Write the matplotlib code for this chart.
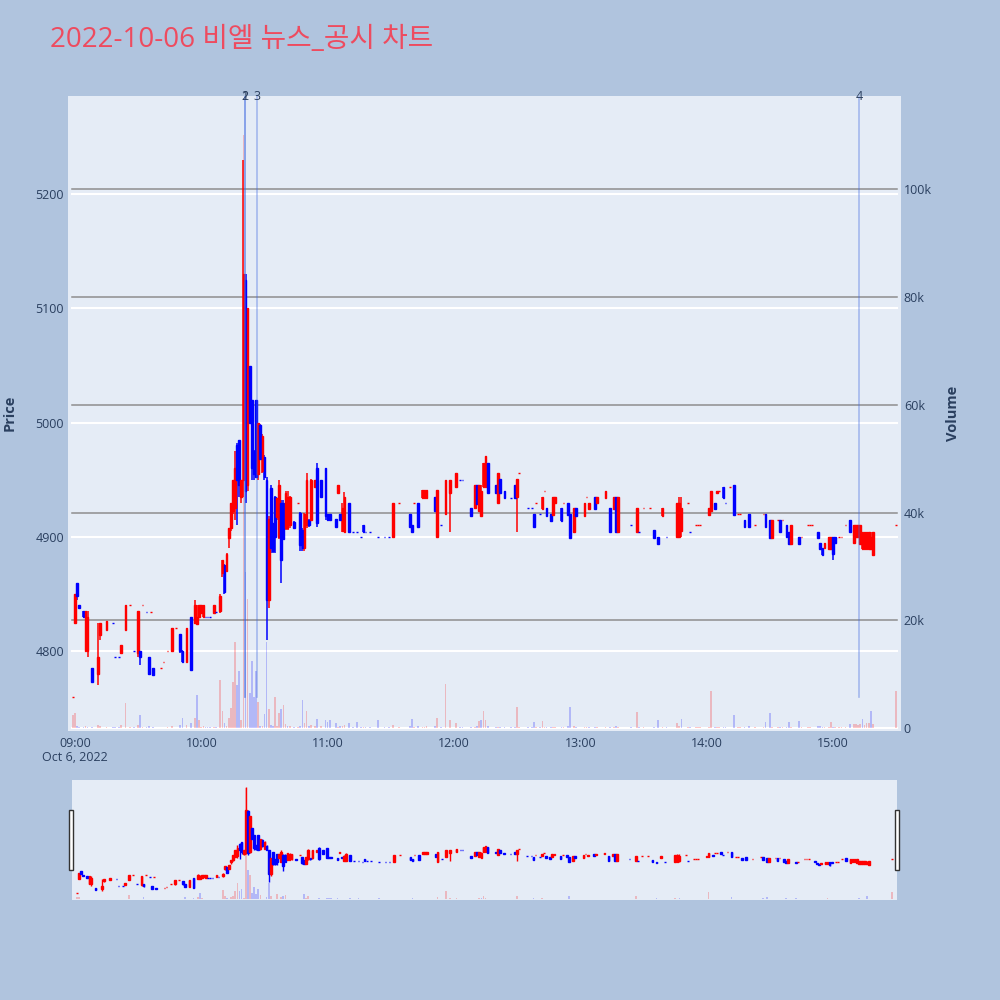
import matplotlib
matplotlib.use("Agg")
import matplotlib.pyplot as plt
import matplotlib.dates as mdates
import matplotlib.transforms as mtransforms
from matplotlib.patches import Rectangle
import pandas as pd

TRADE_DATE = "2022-10-06"
TITLE = "2022-10-06 비엘 뉴스_공시 차트"

# ---------------- data (1-minute candles) ----------------
times = [
    "08:59","09:00","09:01","09:02","09:04","09:05","09:06","09:08","09:11","09:12",
    "09:15","09:18","09:19","09:21","09:22","09:24","09:26","09:28","09:30","09:31",
    "09:32","09:34","09:35","09:36","09:37","09:41","09:42","09:44","09:46","09:48",
    "09:50","09:51","09:53","09:55","09:57","09:58","09:59",
    "10:00","10:01","10:02","10:03","10:04","10:06","10:07","10:09","10:10","10:11",
    "10:12","10:13","10:14","10:15","10:16","10:17","10:18","10:19","10:20","10:21",
    "10:22","10:23","10:24","10:25","10:26","10:27","10:28","10:29","10:30","10:31",
    "10:32","10:33","10:34","10:35","10:36","10:37","10:38","10:39","10:40","10:41",
    "10:42","10:44","10:46","10:47","10:48","10:49","10:50","10:51","10:52","10:54",
    "10:55","10:57","10:59",
    "11:00","11:01","11:04","11:05","11:06","11:07","11:08","11:10","11:12","11:14",
    "11:16","11:17","11:18","11:20","11:24","11:27","11:29","11:31","11:34","11:39",
    "11:40","11:41","11:43","11:45","11:46","11:47","11:51","11:52","11:54","11:56",
    "11:58",
    "12:01","12:03","12:04","12:08","12:10","12:11","12:12","12:13","12:14","12:15",
    "12:16","12:20","12:21","12:22","12:24","12:27","12:29","12:30","12:31","12:35",
    "12:37","12:38","12:39","12:41","12:42","12:43","12:44","12:46","12:47","12:48",
    "12:51","12:52","12:54","12:55","12:57","12:58",
    "13:02","13:03","13:04","13:07","13:08","13:12","13:14","13:16","13:17","13:18",
    "13:24","13:27","13:28","13:30","13:33","13:35","13:37","13:39","13:41","13:46",
    "13:47","13:48","13:51","13:52","13:55","13:56","13:57",
    "14:01","14:02","14:04","14:05","14:06","14:08","14:09","14:11","14:13","14:15",
    "14:16","14:18","14:20","14:23","14:27","14:28","14:30","14:31","14:34","14:35",
    "14:36","14:38","14:39","14:40","14:44","14:45","14:48","14:49","14:50","14:53",
    "14:54","14:55","14:56","14:58","14:59",
    "15:00","15:01","15:03","15:04","15:06","15:08","15:10","15:11","15:12","15:13",
    "15:14","15:15","15:16","15:17","15:18","15:19","15:30",
]
opens = [
    4760,4825,4860,4840,4835,4800,4800,4785,4780,4814,
    4818,4825,4795,4795,4798,4818,4840,4800,4798,4800,
    4840,4834,4795,4834,4785,4785,4790,4800,4800,4820,
    4815,4800,4790,4830,4825,4824,4830,
    4833,4830,4830,4830,4830,4833,4834,4835,4868,4875,
    4870,4899,4908,4923,4925,4980,4985,4935,4950,5125,
    4945,5050,5020,4975,5020,4955,4998,4958,4970,4950,
    4845,4943,4912,4935,4917,4900,4930,4930,4908,4908,
    4910,4913,4930,4921,4906,4890,4910,4915,4915,4944,
    4960,4950,4960,
    4920,4920,4916,4938,4920,4905,4904,4930,4904,4904,
    4900,4910,4904,4904,4900,4900,4900,4900,4930,4920,
    4910,4930,4930,4934,4934,4934,4935,4900,4910,4920,
    4938,
    4944,4950,4950,4925,4925,4945,4923,4918,4944,4944,
    4965,4945,4930,4951,4940,4934,4945,4935,4956,4925,
    4925,4920,4930,4920,4924,4940,4925,4920,4919,4930,
    4925,4930,4930,4920,4904,4925,
    4918,4935,4924,4935,4930,4934,4925,4924,4935,4904,
    4910,4904,4904,4925,4925,4906,4900,4918,4900,4900,
    4900,4905,4930,4904,4910,4910,4910,
    4919,4923,4930,4938,4940,4944,4930,4944,4945,4920,
    4920,4915,4920,4910,4920,4920,4915,4899,4915,4915,
    4915,4910,4904,4894,4900,4900,4910,4910,4910,4904,
    4895,4890,4890,4889,4889,
    4900,4900,4900,4900,4910,4915,4895,4900,4900,4894,
    4889,4889,4889,4889,4889,4884,4910,
]
highs = [
    4760,4850,4860,4840,4835,4835,4835,4785,4825,4825,
    4826,4825,4795,4795,4805,4840,4840,4800,4835,4800,
    4840,4834,4795,4834,4785,4785,4790,4800,4820,4820,
    4815,4801,4820,4830,4845,4840,4840,
    4840,4840,4830,4830,4830,4840,4834,4850,4880,4876,
    4886,4908,4930,4950,4975,4982,4985,4950,5230,5130,
    5100,5050,5020,4976,5020,5000,4999,4990,4972,4952,
    4918,4945,4912,4936,4934,4950,4932,4932,4940,4940,
    4936,4914,4930,4922,4908,4921,4956,4916,4951,4950,
    4965,4950,4960,
    4920,4920,4916,4945,4920,4930,4939,4930,4904,4904,
    4900,4910,4904,4904,4900,4900,4900,4930,4930,4920,
    4910,4930,4930,4941,4941,4941,4935,4941,4910,4950,
    4950,
    4956,4950,4950,4925,4945,4945,4945,4945,4965,4971,
    4965,4945,4956,4951,4940,4934,4945,4951,4956,4925,
    4925,4920,4930,4920,4935,4940,4925,4920,4935,4935,
    4925,4930,4930,4920,4925,4925,
    4930,4935,4930,4935,4935,4940,4925,4935,4935,4935,
    4910,4925,4904,4925,4925,4906,4900,4925,4900,4930,
    4935,4935,4930,4904,4910,4910,4910,
    4925,4940,4930,4940,4940,4944,4930,4944,4945,4920,
    4920,4915,4920,4910,4920,4920,4915,4915,4915,4915,
    4915,4910,4904,4910,4900,4900,4910,4910,4910,4904,
    4895,4890,4895,4900,4900,
    4900,4900,4900,4900,4910,4915,4910,4910,4910,4910,
    4904,4904,4904,4904,4904,4904,4910,
]
lows = [
    4760,4825,4845,4838,4830,4800,4795,4773,4770,4810,
    4818,4825,4795,4795,4797,4818,4840,4800,4795,4788,
    4840,4834,4779,4834,4779,4785,4790,4800,4799,4820,
    4798,4790,4790,4783,4824,4824,4830,
    4833,4830,4830,4830,4830,4833,4834,4833,4865,4850,
    4869,4890,4905,4920,4915,4910,4935,4930,4935,4930,
    4940,5000,4950,4950,4952,4950,4967,4956,4950,4810,
    4838,4886,4886,4886,4915,4898,4860,4897,4906,4906,
    4908,4908,4930,4888,4888,4888,4908,4909,4914,4944,
    4909,4935,4915,
    4915,4915,4909,4938,4915,4904,4904,4904,4904,4904,
    4900,4904,4904,4904,4900,4900,4900,4900,4930,4909,
    4904,4930,4909,4934,4934,4934,4923,4900,4910,4920,
    4904,
    4944,4950,4950,4918,4925,4929,4923,4918,4944,4944,
    4938,4938,4930,4938,4934,4934,4934,4904,4956,4925,
    4925,4909,4930,4920,4924,4940,4918,4914,4919,4930,
    4914,4930,4919,4899,4904,4918,
    4918,4935,4924,4924,4930,4934,4904,4924,4904,4904,
    4910,4904,4904,4925,4925,4899,4894,4918,4900,4900,
    4900,4900,4930,4904,4910,4910,4910,
    4919,4923,4924,4938,4940,4934,4930,4944,4919,4920,
    4920,4909,4909,4910,4920,4909,4899,4899,4915,4904,
    4915,4900,4894,4894,4894,4900,4910,4910,4910,4899,
    4889,4884,4890,4889,4889,
    4880,4895,4900,4900,4910,4904,4895,4900,4900,4894,
    4889,4889,4889,4889,4889,4884,4910,
]
closes = [
    4760,4850,4848,4838,4830,4835,4830,4773,4795,4825,
    4826,4825,4795,4795,4805,4840,4840,4800,4835,4795,
    4840,4834,4780,4834,4779,4785,4790,4800,4820,4820,
    4800,4790,4820,4783,4840,4830,4840,
    4840,4840,4830,4830,4830,4840,4834,4848,4880,4852,
    4885,4908,4930,4950,4960,4950,4945,4950,5130,4940,
    5100,5000,4960,4955,4952,5000,4968,4988,4952,4845,
    4916,4890,4888,4900,4934,4945,4880,4898,4938,4935,
    4935,4908,4930,4893,4890,4920,4950,4910,4950,4950,
    4912,4935,4918,
    4915,4915,4909,4945,4915,4925,4935,4904,4904,4904,
    4900,4904,4904,4904,4900,4900,4900,4930,4930,4909,
    4904,4930,4909,4941,4941,4941,4923,4941,4910,4950,
    4950,
    4956,4950,4950,4918,4945,4929,4945,4940,4965,4971,
    4938,4938,4956,4938,4934,4934,4934,4951,4956,4925,
    4925,4909,4930,4920,4935,4940,4918,4914,4935,4935,
    4914,4930,4919,4899,4925,4918,
    4930,4935,4930,4924,4935,4940,4904,4935,4904,4935,
    4910,4925,4904,4925,4925,4899,4894,4925,4900,4930,
    4930,4925,4930,4904,4910,4910,4910,
    4925,4940,4924,4940,4940,4934,4930,4944,4919,4920,
    4920,4909,4909,4910,4920,4909,4899,4915,4915,4904,
    4915,4900,4894,4910,4894,4900,4910,4910,4910,4899,
    4889,4884,4895,4900,4900,
    4885,4895,4900,4900,4910,4904,4910,4910,4910,4910,
    4904,4904,4904,4904,4900,4904,4910,
]
volumes_k = [
    2.4,2.8,0.5,0.2,0.3,0.4,0.3,0.3,0.7,0.5,
    0.3,0.2,0.2,0.2,0.7,4.7,0.2,0.2,0.6,2.4,
    0.2,0.2,0.4,0.1,0.3,0.1,0.1,0.2,0.5,0.1,
    0.6,2.0,0.6,1.0,2.0,6.1,1.5,
    0.3,0.5,0.2,0.2,0.2,0.3,0.2,9.0,3.3,1.0,
    0.5,2.0,3.7,8.6,16,8.0,10.6,1.5,110,29,
    24,6.5,12.4,5.8,10.6,4.8,0.5,0.5,2.6,16,
    3.5,0.7,0.4,5.8,0.5,2.9,3.5,4.3,0.8,0.5,
    0.4,0.3,0.3,0.5,5.2,1.0,3.3,0.5,0.6,0.4,
    1.7,0.5,1.5,
    1.2,1.5,1.0,0.3,0.5,0.4,0.6,1.0,0.2,1.1,
    0.2,0.3,0.2,0.2,1.5,0.2,0.2,0.6,0.2,0.5,
    1.8,0.2,0.4,0.3,0.3,0.5,0.4,2.0,0.2,8.2,
    1.5,
    1.0,0.3,0.3,0.3,0.3,0.4,1.3,1.6,3.3,1.5,
    0.4,0.3,0.3,0.3,0.3,0.2,0.3,3.9,0.2,0.2,
    0.2,1.1,0.2,0.3,1.3,0.2,0.3,0.3,0.3,0.2,
    0.3,0.2,0.4,3.9,0.5,0.3,
    0.2,0.2,0.3,0.3,0.2,0.2,0.3,0.3,0.4,0.3,
    0.2,3.0,0.2,0.2,0.1,0.2,1.6,0.2,0.2,1.0,
    0.4,1.8,0.2,0.2,0.2,0.2,0.2,
    0.3,6.9,0.3,0.3,0.2,0.3,0.2,0.1,2.4,0.2,
    0.3,0.3,0.4,0.2,0.2,1.2,2.9,0.3,0.2,0.3,
    0.2,0.3,1.1,0.3,1.3,0.2,0.2,0.2,0.1,0.5,
    0.4,0.3,0.3,0.3,1.1,
    0.3,0.3,0.2,0.2,0.2,0.8,0.8,0.8,0.6,0.8,
    1.8,0.7,0.9,0.9,3.3,0.8,6.9,
]

news_labels = ["1", "2", "3", "4"]
news_times = ["10:20:50", "10:20:50", "10:26:25", "15:12:20"]

price_ticks = [4800, 4900, 5000, 5100, 5200]
volume_ticks_k = [0, 20, 40, 60, 80, 100]
volume_tick_labels = ["0", "20k", "40k", "60k", "80k", "100k"]
time_ticks = ["09:00", "10:00", "11:00", "12:00", "13:00", "14:00", "15:00"]
date_label = "Oct 6, 2022"

n = len(times)
for name, lst in [("opens", opens), ("highs", highs), ("lows", lows),
                  ("closes", closes), ("volumes_k", volumes_k)]:
    if len(lst) != n:
        raise SystemExit(f"{name} has {len(lst)} entries, times has {n}")

# ---------------- style ----------------
BG = "#B0C4DE"
PLOT_BG = "#E5ECF6"
UP = "#FF0000"
DOWN = "#0000FF"
UP_VOL = (1.0, 0.0, 0.0, 0.22)
DOWN_VOL = (0.0, 0.0, 1.0, 0.22)
TXT = "#2a3f5f"
plt.rcParams["font.family"] = ["Open Sans", "Noto Sans CJK KR", "DejaVu Sans"]

def to_num(hhmm):
    return mdates.date2num(pd.to_datetime([f"{TRADE_DATE} {s}" for s in hhmm]))

x = to_num(times)
MIN = 1.0 / 1440.0

# candle direction (plotly rule: equal open/close follows change vs previous close)
cdir = []
vdir = []
prev_c = None
last = 1
for o, c in zip(opens, closes):
    if c > o:
        d = 1
    elif c < o:
        d = -1
    else:
        if prev_c is not None and c != prev_c:
            d = 1 if c > prev_c else -1
        else:
            d = last
    cdir.append(d)
    if prev_c is None or c == prev_c:
        vdir.append(d)
    else:
        vdir.append(1 if c > prev_c else -1)
    last = d
    prev_c = c

ccol = [UP if d > 0 else DOWN for d in cdir]
vcol = [UP_VOL if d > 0 else DOWN_VOL for d in vdir]
body_bottom = [min(o, c) for o, c in zip(opens, closes)]
body_height = [abs(c - o) for o, c in zip(opens, closes)]
vol = [v * 1000 for v in volumes_k]

x_lo = to_num(["08:56:40"])[0]
x_hi = to_num(["15:32:20"])[0]

fig = plt.figure(figsize=(10, 10), dpi=100, facecolor=BG)

# ---------------- main chart ----------------
rect = [0.068, 0.269, 0.833, 0.635]
ax_v = fig.add_axes(rect, facecolor=PLOT_BG)
ax_p = fig.add_axes(rect, facecolor="none", sharex=ax_v)

ax_v.set_xlim(x_lo, x_hi)
ax_p.set_ylim(4730, 5286)
ax_v.set_ylim(-500, 117300)

# grid lines (price: white, volume: grey)
gx = (0.0048, 0.9952)
tr_p = mtransforms.blended_transform_factory(ax_v.transAxes, ax_p.transData)
for p in price_ticks:
    ax_v.plot(gx, [p, p], transform=tr_p, color="white", lw=1.5, zorder=0.5)
for vk in volume_ticks_k:
    ax_v.plot(gx, [vk * 1000, vk * 1000], transform=ax_v.get_yaxis_transform(),
              color=("white" if vk == 0 else "#8e8e8e"), lw=(1.5 if vk == 0 else 1.1),
              zorder=0.6)

ax_v.bar(x, vol, width=0.8 * MIN, color=vcol, linewidth=0, zorder=1)

ax_p.vlines(x, lows, highs, colors=ccol, lw=1.1, zorder=3)
ax_p.bar(x, body_height, bottom=body_bottom, width=0.8 * MIN, color=ccol,
         edgecolor=ccol, linewidth=1.0, zorder=4)

# news markers
xn = to_num(news_times)
tr_x = mtransforms.blended_transform_factory(ax_p.transData, ax_p.transAxes)
for lab, xv in zip(news_labels, xn):
    ax_p.axvline(xv, ymin=0.053, ymax=1.0, color=(0.25, 0.41, 0.88, 0.4), lw=1.2, zorder=5)
    ax_p.text(xv, 1.0, lab, transform=tr_x, ha="center", va="center",
              fontsize=9, color=TXT, zorder=6, clip_on=False)

for a in (ax_v, ax_p):
    for s in a.spines.values():
        s.set_visible(False)

ax_p.yaxis.tick_left()
ax_p.set_yticks(price_ticks)
ax_p.set_yticklabels([str(p) for p in price_ticks])
ax_p.tick_params(axis="y", length=0, pad=3, labelsize=9, labelcolor=TXT)

ax_v.yaxis.tick_right()
ax_v.set_yticks([vk * 1000 for vk in volume_ticks_k])
ax_v.set_yticklabels(volume_tick_labels)
ax_v.tick_params(axis="y", length=0, pad=2, labelsize=9, labelcolor=TXT)

xt = to_num(time_ticks)
ax_p.set_xticks(xt)
ax_p.set_xticklabels(time_ticks)
ax_p.tick_params(axis="x", length=0, pad=4, labelsize=9, labelcolor=TXT)
ax_v.tick_params(axis="x", labelbottom=False, length=0)
ax_p.text(xt[0], -0.041, date_label, transform=tr_x, ha="center", va="center",
          fontsize=9, color=TXT)

fig.text(0.010, 0.587, "Price", rotation=90, ha="center", va="center",
         fontsize=10.5, fontweight="bold", color=TXT)
fig.text(0.953, 0.587, "Volume", rotation=90, ha="center", va="center",
         fontsize=10.5, fontweight="bold", color=TXT)

fig.text(0.050, 0.960, TITLE, ha="left", va="center", fontsize=20,
         color="#EE4B5F", family=["Open Sans", "Noto Sans CJK KR", "DejaVu Sans"])

# ---------------- range slider ----------------
srect = [0.072, 0.100, 0.825, 0.120]
ax_sv = fig.add_axes(srect, facecolor=PLOT_BG)
ax_sp = fig.add_axes(srect, facecolor="none", sharex=ax_sv)
ax_sv.set_xlim(x_lo, x_hi)
ax_sv.set_ylim(-500, 117800)
ax_sp.set_ylim(4731, 5261)
ax_sv.bar(x, vol, width=0.8 * MIN, color=vcol, linewidth=0, zorder=1)
ax_sp.vlines(x, lows, highs, colors=ccol, lw=1.0, zorder=3)
ax_sp.bar(x, body_height, bottom=body_bottom, width=0.8 * MIN, color=ccol,
          edgecolor=ccol, linewidth=1.0, zorder=4)
for a in (ax_sv, ax_sp):
    a.set_xticks([])
    a.set_yticks([])
    for s in a.spines.values():
        s.set_visible(False)

for hx in (0.069, 0.895):
    fig.patches.append(Rectangle((hx, 0.130), 0.004, 0.060, transform=fig.transFigure,
                                 facecolor="white", edgecolor="#333333", lw=1.0,
                                 zorder=10))

fig.savefig("out.png", dpi=100, facecolor=BG)
